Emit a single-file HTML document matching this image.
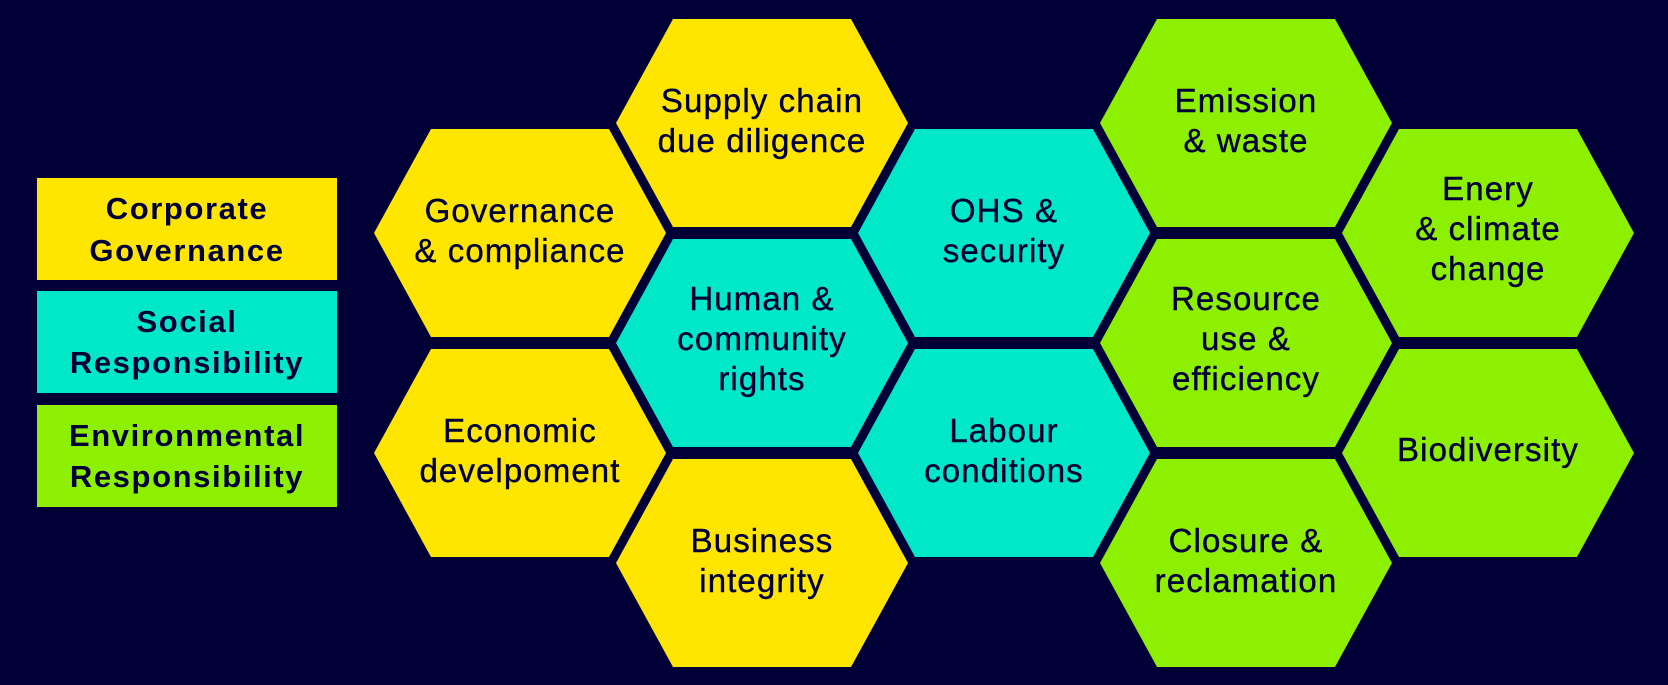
<!DOCTYPE html>
<html><head><meta charset="utf-8"><style>
html,body{margin:0;padding:0;background:#000036;}
svg{display:block}
text{font-family:"Liberation Sans",sans-serif;fill:#000036;}
</style></head><body>
<svg width="1668" height="685" viewBox="0 0 1668 685">
<rect width="1668" height="685" fill="#000036"/>
<defs>
<polygon id="h" points="-146,0 -89,-104 89,-104 146,0 89,104 -89,104"/>
</defs>
<!-- legend -->
<rect x="37" y="178" width="300" height="102" fill="#ffe600"/>
<rect x="37" y="291" width="300" height="102" fill="#00e8c8"/>
<rect x="37" y="405" width="300" height="102" fill="#8cf000"/>
<g font-size="31" font-weight="bold" text-anchor="middle" letter-spacing="1.6">
<text x="187" y="219">Corporate</text><text x="187" y="261">Governance</text>
<text x="187" y="332">Social</text><text x="187" y="373">Responsibility</text>
<text x="187" y="446">Environmental</text><text x="187" y="487">Responsibility</text>
</g>
<!-- hexes -->
<use href="#h" x="520" y="233" fill="#ffe600"/>
<use href="#h" x="520" y="453" fill="#ffe600"/>
<use href="#h" x="762" y="123" fill="#ffe600"/>
<use href="#h" x="762" y="343" fill="#00e8c8"/>
<use href="#h" x="762" y="563" fill="#ffe600"/>
<use href="#h" x="1004" y="233" fill="#00e8c8"/>
<use href="#h" x="1004" y="453" fill="#00e8c8"/>
<use href="#h" x="1246" y="123" fill="#8cf000"/>
<use href="#h" x="1246" y="343" fill="#8cf000"/>
<use href="#h" x="1246" y="563" fill="#8cf000"/>
<use href="#h" x="1488" y="233" fill="#8cf000"/>
<use href="#h" x="1488" y="453" fill="#8cf000"/>
<g font-size="33" text-anchor="middle" letter-spacing="1.1" stroke="#000036" stroke-width="0.4">
<text x="520" y="222">Governance</text><text x="520" y="262">&amp; compliance</text>
<text x="520" y="442">Economic</text><text x="520" y="482">develpoment</text>
<text x="762" y="112">Supply chain</text><text x="762" y="152">due diligence</text>
<text x="762" y="310">Human &amp;</text><text x="762" y="350">community</text><text x="762" y="390">rights</text>
<text x="762" y="552">Business</text><text x="762" y="592">integrity</text>
<text x="1004" y="222">OHS &amp;</text><text x="1004" y="262">security</text>
<text x="1004" y="442">Labour</text><text x="1004" y="482">conditions</text>
<text x="1246" y="112">Emission</text><text x="1246" y="152">&amp; waste</text>
<text x="1246" y="310">Resource</text><text x="1246" y="350">use &amp;</text><text x="1246" y="390">efficiency</text>
<text x="1246" y="552">Closure &amp;</text><text x="1246" y="592">reclamation</text>
<text x="1488" y="200">Enery</text><text x="1488" y="240">&amp; climate</text><text x="1488" y="280">change</text>
<text x="1488" y="461">Biodiversity</text>
</g>
</svg>
</body></html>
